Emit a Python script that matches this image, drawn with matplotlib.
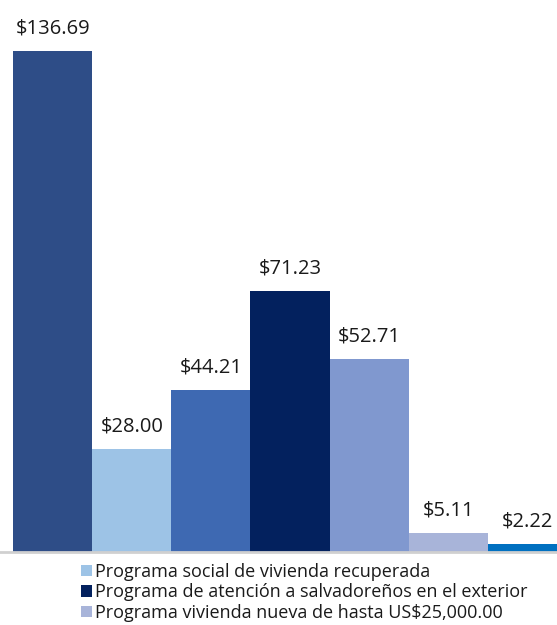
import matplotlib

matplotlib.use('Agg')
import matplotlib.pyplot as plt
from matplotlib.patches import Patch

plt.rcParams['font.family'] = ['Open Sans', 'DejaVu Sans']

# program amounts (millions US$), in drawing order
values = [136.69, 28.00, 44.21, 71.23, 52.71, 5.11, 2.22]
colors = ['#2E4D87', '#9DC3E6', '#3E69B2', '#03215E', '#8098CF', '#A8B4D9', '#0070C0']
value_labels = ['$136.69', '$28.00', '$44.21', '$71.23', '$52.71', '$5.11', '$2.22']

legend_labels = [
    'Programa social de vivienda recuperada',
    'Programa de atención a salvadoreños en el exterior',
    'Programa vivienda nueva de hasta US$25,000.00',
]
legend_colors = ['#9DC3E6', '#03215E', '#A8B4D9']

fig = plt.figure(figsize=(5.57, 6.25), dpi=100)
ax = fig.add_axes([0, 1 - 552 / 625, 1, 552 / 625])

x = range(len(values))
bars = ax.bar(x, values, width=1.0, color=colors)
for bar, lab in zip(bars, value_labels):
    ax.annotate(lab, (bar.get_x() + 0.5, bar.get_height()),
                xytext=(0, 9), textcoords='offset points',
                ha='center', va='bottom', fontsize=14.5, color='#1a1a1a')

ax.set_xlim(-0.664, 6.372)
ax.set_ylim(0, 150.6)
for side in ['top', 'right', 'left']:
    ax.spines[side].set_visible(False)
ax.spines['bottom'].set_color('#D0D0D0')
ax.spines['bottom'].set_linewidth(2)
ax.set_xticks([])
ax.set_yticks([])

handles = [Patch(facecolor=c, edgecolor='none') for c in legend_colors]
fig.legend(handles, legend_labels, loc='upper left',
           bbox_to_anchor=(81 / 557, 1 - 563 / 625), frameon=False,
           fontsize=13, handlelength=0.6, handleheight=0.6,
           handletextpad=0.2, labelspacing=0.13, borderpad=0, borderaxespad=0,
           labelcolor='#1a1a1a')

fig.savefig('out.png', dpi=100)
